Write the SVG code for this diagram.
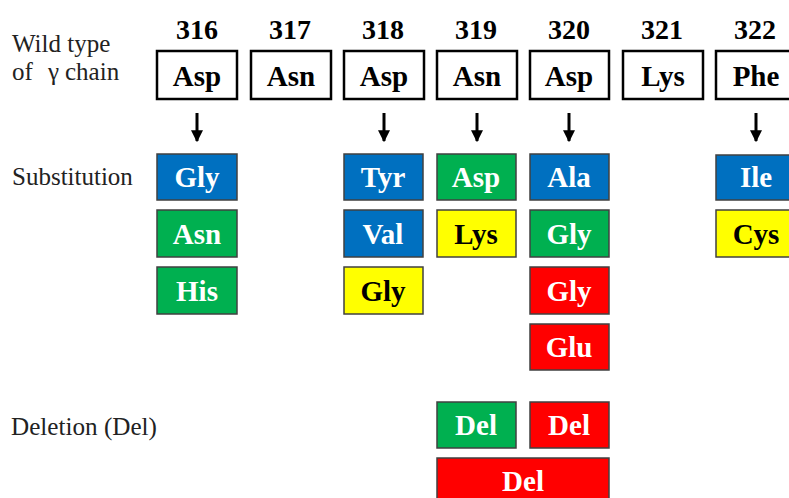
<svg xmlns="http://www.w3.org/2000/svg" width="789" height="498" viewBox="0 0 789 498">
<defs>
<style>
.lbl{font-family:"Liberation Serif","DejaVu Serif",serif;font-size:25px;fill:#222}
.num{font-family:"Liberation Serif","DejaVu Serif",serif;font-size:28px;font-weight:bold;fill:#000;text-anchor:middle}
.wt rect{fill:#fff;stroke:#000;stroke-width:2.5}
.bt{font-family:"Liberation Serif","DejaVu Serif",serif;font-size:29px;font-weight:bold;text-anchor:middle}
.wt text{fill:#000}
.s rect{stroke:#404040;stroke-width:1.5}
.blue rect{fill:#0070C0}.green rect{fill:#00B050}.red rect{fill:#FF0000}.yellow rect{fill:#FFFF00}
.blue text,.green text,.red text{fill:#fff}.yellow text{fill:#000}
.arr{stroke:#000;stroke-width:3;fill:none}
</style>
<marker id="ah" viewBox="0 0 10 10" refX="9" refY="5" markerWidth="4" markerHeight="4" orient="auto"><path d="M0,0 L10,5 L0,10 z" fill="#000"/></marker>
</defs>
<g id="labels">
<text class="lbl" x="12" y="52">Wild type</text>
<text class="lbl" y="80"><tspan x="12">of</tspan><tspan x="48">γ</tspan><tspan x="65">chain</tspan></text>
<text class="lbl" x="12" y="185">Substitution</text>
<text class="lbl" x="11" y="435" textLength="146" lengthAdjust="spacingAndGlyphs">Deletion (Del)</text>
</g>
<g id="numbers">
<text class="num" x="197" y="39">316</text>
<text class="num" x="290" y="39">317</text>
<text class="num" x="383" y="39">318</text>
<text class="num" x="476" y="39">319</text>
<text class="num" x="569" y="39">320</text>
<text class="num" x="662" y="39">321</text>
<text class="num" x="755" y="39">322</text>
</g>
<g id="wt316" class="wt"><rect x="157" y="51" width="80" height="48"/><text class="bt" x="197" y="86">Asp</text></g>
<g id="wt317" class="wt"><rect x="251" y="51" width="80" height="48"/><text class="bt" x="291" y="86">Asn</text></g>
<g id="wt318" class="wt"><rect x="344" y="51" width="80" height="48"/><text class="bt" x="384" y="86">Asp</text></g>
<g id="wt319" class="wt"><rect x="437" y="51" width="80" height="48"/><text class="bt" x="477" y="86">Asn</text></g>
<g id="wt320" class="wt"><rect x="530" y="51" width="79" height="48"/><text class="bt" x="569" y="86">Asp</text></g>
<g id="wt321" class="wt"><rect x="623" y="51" width="80" height="48"/><text class="bt" x="663" y="86">Lys</text></g>
<g id="wt322" class="wt"><rect x="716" y="51" width="80" height="48"/><text class="bt" x="756" y="86">Phe</text></g>
<g id="connectors">
<line class="arr" x1="197" y1="113" x2="197" y2="141" marker-end="url(#ah)"/>
<line class="arr" x1="384" y1="113" x2="384" y2="141" marker-end="url(#ah)"/>
<line class="arr" x1="477" y1="113" x2="477" y2="141" marker-end="url(#ah)"/>
<line class="arr" x1="569" y1="113" x2="569" y2="141" marker-end="url(#ah)"/>
<line class="arr" x1="756" y1="113" x2="756" y2="141" marker-end="url(#ah)"/>
</g>
<g id="s316a" class="s blue"><rect x="157" y="154" width="80" height="46"/><text class="bt" x="197" y="187">Gly</text></g>
<g id="s316b" class="s green"><rect x="157" y="210" width="80" height="47"/><text class="bt" x="197" y="244">Asn</text></g>
<g id="s316c" class="s green"><rect x="157" y="267" width="80" height="47"/><text class="bt" x="197" y="301">His</text></g>
<g id="s318a" class="s blue"><rect x="344" y="154" width="79" height="46"/><text class="bt" x="383" y="187">Tyr</text></g>
<g id="s318b" class="s blue"><rect x="344" y="210" width="79" height="47"/><text class="bt" x="383" y="244">Val</text></g>
<g id="s318c" class="s yellow"><rect x="344" y="267" width="79" height="47"/><text class="bt" x="383" y="301">Gly</text></g>
<g id="s319a" class="s green"><rect x="437" y="154" width="79" height="46"/><text class="bt" x="476" y="187">Asp</text></g>
<g id="s319b" class="s yellow"><rect x="437" y="210" width="79" height="47"/><text class="bt" x="476" y="244">Lys</text></g>
<g id="s320a" class="s blue"><rect x="530" y="154" width="79" height="46"/><text class="bt" x="569" y="187">Ala</text></g>
<g id="s320b" class="s green"><rect x="530" y="210" width="79" height="47"/><text class="bt" x="569" y="244">Gly</text></g>
<g id="s320c" class="s red"><rect x="530" y="267" width="79" height="47"/><text class="bt" x="569" y="301">Gly</text></g>
<g id="s320d" class="s red"><rect x="530" y="324" width="79" height="46"/><text class="bt" x="569" y="357">Glu</text></g>
<g id="s322a" class="s blue"><rect x="716" y="155" width="80" height="45"/><text class="bt" x="756" y="187">Ile</text></g>
<g id="s322b" class="s yellow"><rect x="716" y="210" width="80" height="47"/><text class="bt" x="756" y="244">Cys</text></g>
<g id="d319" class="s green"><rect x="437" y="402" width="79" height="46"/><text class="bt" x="476" y="435">Del</text></g>
<g id="d320" class="s red"><rect x="530" y="402" width="79" height="46"/><text class="bt" x="569" y="435">Del</text></g>
<g id="d319_320" class="s red"><rect x="437" y="458" width="172" height="46"/><text class="bt" x="523" y="491">Del</text></g>
</svg>
